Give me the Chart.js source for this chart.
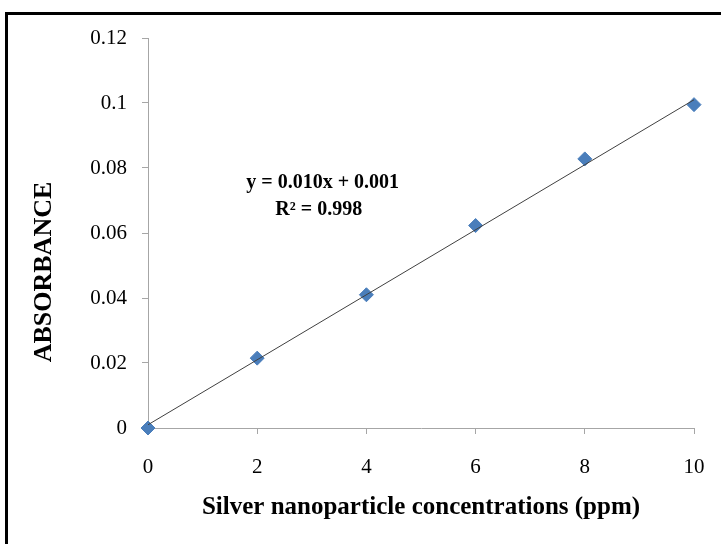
<!DOCTYPE html>
<html>
<head>
<meta charset="utf-8">
<script src="https://cdn.jsdelivr.net/npm/chart.js@4"></script>
<style>
  html, body { margin: 0; padding: 0; background: #fff; overflow: hidden; }
  #wrap { position: relative; width: 721px; height: 544px; }
  #frame {
    position: absolute; left: 5px; top: 12px; width: 800px; height: 600px;
    border-left: 3px solid #000; border-top: 3px solid #000;
  }
  canvas { position: absolute; left: 0; top: 0; }
</style>
</head>
<body>
<div id="wrap">
  <div id="frame"></div>
  <canvas id="chart" width="721" height="544"></canvas>
</div>
<script>
// データ
const concentrations = [0, 2, 4, 6, 8, 10];
const absorbance = [0.0000, 0.0215, 0.0410, 0.0623, 0.0828, 0.0995];
// トレンドライン（両端の読み取り値）
const trendX = [0, 10];
const trendY = [0.0010, 0.1010];
const equationLines = ['y = 0.010x + 0.001', 'R\u00b2 = 0.998'];
const xTitle = 'Silver nanoparticle concentrations (ppm)';
const yTitle = 'ABSORBANCE';

const axisGray = '#a6a6a6';
const serif = "'Liberation Serif', 'Times New Roman', serif";

// 近似式と縦軸タイトルを描画
const textPlugin = {
    id: 'extraText',
    afterDatasetsDraw(chart) {
        const { ctx, scales } = chart;
        const cx = scales.x.getPixelForValue(3.2);
        const cy = scales.y.getPixelForValue(0.0755);
        ctx.save();
        ctx.font = 'bold 20px ' + serif;
        ctx.fillStyle = '#000';
        ctx.textAlign = 'center';
        ctx.textBaseline = 'middle';
        ctx.fillText(equationLines[0], cx, cy);
        ctx.fillText(equationLines[1], cx - 4, cy + 27);
        ctx.restore();

        // 縦軸タイトル（軸の中央より少し下）
        ctx.save();
        ctx.translate(44, scales.y.getPixelForValue(0.048));
        ctx.rotate(-Math.PI / 2);
        ctx.font = 'bold 26px ' + serif;
        ctx.fillStyle = '#000';
        ctx.textAlign = 'center';
        ctx.textBaseline = 'middle';
        ctx.fillText(yTitle, 0, 0);
        ctx.restore();
    }
};

new Chart(document.getElementById('chart'), {
    type: 'scatter',
    data: {
        datasets: [
            {
                label: 'Trend',
                type: 'line',
                data: trendX.map((x, i) => ({ x: x, y: trendY[i] })),
                borderColor: '#404040',
                borderWidth: 1,
                pointRadius: 0,
                fill: false,
                order: 0
            },
            {
                label: 'Absorbance',
                data: concentrations.map((x, i) => ({ x: x, y: absorbance[i] })),
                pointStyle: 'rectRot',
                pointRadius: 7,
                pointBackgroundColor: '#4a7ebb',
                pointBorderColor: '#4a7ebb',
                pointBorderWidth: 1,
                clip: false,
                order: 1
            }
        ]
    },
    options: {
        responsive: false,
        animation: false,
        events: [],
        layout: { padding: { left: 0, top: 38, right: 27, bottom: 0 } },
        plugins: {
            legend: { display: false },
            tooltip: { enabled: false }
        },
        scales: {
            x: {
                type: 'linear',
                min: 0,
                max: 10,
                afterFit: (scale) => {
                    scale.height = 116;
                    scale.paddingLeft = 0;
                    scale.paddingRight = 0;
                },
                ticks: {
                    stepSize: 2,
                    color: '#000',
                    padding: 21,
                    font: { family: serif, size: 21 }
                },
                grid: { drawOnChartArea: false, drawTicks: true, tickLength: 6, color: axisGray },
                border: { color: axisGray, width: 1 },
                title: {
                    display: true,
                    text: xTitle,
                    color: '#000',
                    font: { family: serif, size: 25, weight: 'bold' },
                    padding: { top: 0, bottom: 21 }
                }
            },
            y: {
                type: 'linear',
                min: 0,
                max: 0.12,
                afterFit: (scale) => {
                    scale.width = 148;
                    scale.paddingTop = 0;
                    scale.paddingBottom = 0;
                },
                ticks: {
                    stepSize: 0.02,
                    color: '#000',
                    padding: 15,
                    font: { family: serif, size: 21 },
                    callback: (v) => String(Number(v.toFixed(2)))
                },
                grid: { drawOnChartArea: false, drawTicks: true, tickLength: 6, color: axisGray },
                border: { color: axisGray, width: 1 },
                title: { display: false }
            }
        }
    },
    plugins: [textPlugin]
});
</script>
</body>
</html>
